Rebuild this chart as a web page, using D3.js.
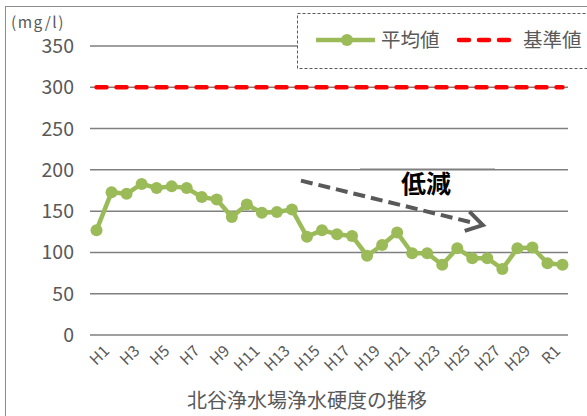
<!DOCTYPE html>
<html><head><meta charset="utf-8">
<script src="https://cdn.jsdelivr.net/npm/d3@7"></script>
<style>
html,body{margin:0;padding:0;background:#fff;}
text{font-family:"Noto Sans CJK JP","Noto Sans",sans-serif;}
</style></head>
<body><svg id="c" width="587" height="416"></svg>
<script>
const categories = ["H1","H2","H3","H4","H5","H6","H7","H8","H9","H10","H11","H12","H13","H14","H15","H16","H17","H18","H19","H20","H21","H22","H23","H24","H25","H26","H27","H28","H29","H30","R1","R2"];
const averageValues = [127,173,171,183,178,180,178,167,164,143,158,148,149,152,119,127,122,120,96,109,124,99,99,85,105,93,93,80,105,106,87,85];
const standardValues = categories.map(() => 300);
const yTicks = [0,50,100,150,200,250,300,350];
const xTickLabels = ["H1","H3","H5","H7","H9","H11","H13","H15","H17","H19","H21","H23","H25","H27","H29","R1"];
const seriesNames = ["平均値","基準値"];
const unitLabel = "(mg/l)";
const axisTitle = "北谷浄水場浄水硬度の推移";
const annotationText = "低減";
// trend arrow in data terms: [category index position, value]
const trendArrow = [[13.6,187],[25.7,133]];

const svg = d3.select("#c");
const gray = "#595959";
const x = d3.scaleBand().domain(categories).range([89,570]);
const xi = d3.scaleLinear().domain([0,categories.length-1]).range([x(categories[0])+x.bandwidth()/2, x(categories[categories.length-1])+x.bandwidth()/2]);
const y = d3.scaleLinear().domain([0,350]).range([335,46]);
const cx = d => x(d)+x.bandwidth()/2;

// outer border
svg.append("rect").attr("x",5.5).attr("y",6.5).attr("width",640).attr("height",500)
  .attr("fill","none").attr("stroke","#8c8c8c").attr("stroke-width",1);

// gridlines
svg.append("g").selectAll("line").data(yTicks).join("line")
  .attr("x1",90).attr("x2",568).attr("y1",d=>y(d)).attr("y2",d=>y(d))
  .attr("stroke","#7f7f7f").attr("stroke-width",1.5);

// y labels
svg.append("g").selectAll("text").data(yTicks).join("text")
  .attr("x",74).attr("y",d=>y(d)).attr("dy","0.36em").attr("text-anchor","end")
  .attr("fill",gray).attr("font-size",19.5).text(d=>d);

svg.append("text").attr("x",11).attr("y",28).attr("fill",gray).attr("font-size",15.5)
  .attr("letter-spacing",1.5).text(unitLabel);

// x labels rotated -45deg
svg.append("g").selectAll("g").data(xTickLabels).join("g")
  .attr("transform",d=>"translate(" + (cx(d)+6) + ",344)")
  .append("g").attr("transform","rotate(-45)")
  .append("text").attr("text-anchor","end").attr("dy","0.72em")
  .attr("fill",gray).attr("font-size",15.5).text(d=>d);

svg.append("text").attr("x",307).attr("y",408).attr("text-anchor","middle")
  .attr("fill",gray).attr("font-size",20).text(axisTitle);

// standard line
svg.append("path").datum(standardValues)
  .attr("d",d3.line().x((d,i)=>cx(categories[i])).y(d=>y(d)))
  .attr("fill","none").attr("stroke","#ff0000").attr("stroke-width",4.5)
  .attr("stroke-dasharray","10,10").attr("stroke-linecap","round");

// average line
const green = "#9bbb59";
svg.append("path").datum(averageValues)
  .attr("d",d3.line().x((d,i)=>cx(categories[i])).y(d=>y(d)))
  .attr("fill","none").attr("stroke",green).attr("stroke-width",4.5).attr("stroke-linejoin","round");
svg.append("g").selectAll("circle").data(averageValues).join("circle")
  .attr("cx",(d,i)=>cx(categories[i])).attr("cy",d=>y(d)).attr("r",6).attr("fill",green);

// annotation text box top edge
svg.append("line").attr("x1",360).attr("x2",495).attr("y1",168.5).attr("y2",168.5)
  .attr("stroke","#bfbfbf").attr("stroke-width",1);

// trend arrow
const p0 = [xi(trendArrow[0][0]), y(trendArrow[0][1])];
const p1 = [xi(trendArrow[1][0]), y(trendArrow[1][1])];
const ang = Math.atan2(p1[1]-p0[1], p1[0]-p0[0]);
const back = 8;
svg.append("line").attr("x1",p0[0]).attr("y1",p0[1])
  .attr("x2",p1[0]-back*Math.cos(ang)).attr("y2",p1[1]-back*Math.sin(ang))
  .attr("stroke",gray).attr("stroke-width",4).attr("stroke-dasharray","12,6");
const ah = 19, aw = 0.55;
svg.append("path")
  .attr("d",d3.line()([
    [p1[0]-ah*Math.cos(ang-aw), p1[1]-ah*Math.sin(ang-aw)],
    p1,
    [p1[0]-ah*Math.cos(ang+aw), p1[1]-ah*Math.sin(ang+aw)]
  ]))
  .attr("fill","none").attr("stroke",gray).attr("stroke-width",4).attr("stroke-linejoin","miter");

svg.append("text").attr("x",401).attr("y",193).attr("fill","#000").attr("font-size",25)
  .attr("font-weight","bold").text(annotationText);

// legend
svg.append("rect").attr("x",297.5).attr("y",13.5).attr("width",320).attr("height",55)
  .attr("fill","#fff").attr("stroke","#595959").attr("stroke-width",1).attr("stroke-dasharray","3,2");
svg.append("line").attr("x1",316).attr("x2",375).attr("y1",40).attr("y2",40)
  .attr("stroke",green).attr("stroke-width",4.5);
svg.append("circle").attr("cx",347).attr("cy",40).attr("r",6).attr("fill",green);
svg.append("text").attr("x",381).attr("y",47).attr("fill",gray).attr("font-size",19.5).text(seriesNames[0]);
svg.append("line").attr("x1",459).attr("x2",512).attr("y1",40).attr("y2",40)
  .attr("stroke","#ff0000").attr("stroke-width",4.5).attr("stroke-dasharray","10,10").attr("stroke-linecap","round");
svg.append("text").attr("x",523).attr("y",47).attr("fill",gray).attr("font-size",19.5).text(seriesNames[1]);
</script></body></html>
